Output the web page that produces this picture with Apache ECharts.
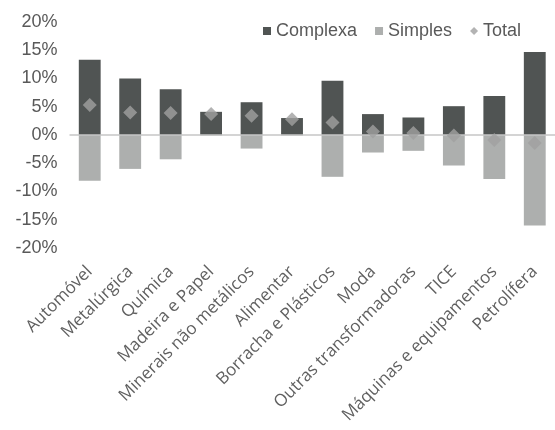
<!DOCTYPE html>
<html>
<head>
<meta charset="utf-8">
<script src="https://cdn.jsdelivr.net/npm/echarts@6/dist/echarts.min.js"></script>
<style>
    html, body { margin: 0; padding: 0; background: #fff; }
    #main { width: 555px; height: 430px; }
</style>
</head>
<body>
<div id="main"></div>
<script>
var categories = ['Automóvel', 'Metalúrgica', 'Química', 'Madeira e Papel', 'Minerais não metálicos',
    'Alimentar', 'Borracha e Plásticos', 'Moda', 'Outras transformadoras', 'TICE',
    'Máquinas e equipamentos', 'Petrolífera'];
var complexa = [13.3, 10.0, 8.1, 4.1, 5.8, 3.0, 9.6, 3.7, 3.1, 5.1, 6.9, 14.7];
var simples = [-8.1, -6.0, -4.3, -0.1, -2.4, -0.1, -7.4, -3.1, -2.8, -5.4, -7.8, -16.0];
var total = [5.3, 4.0, 3.9, 3.7, 3.4, 2.8, 2.2, 0.6, 0.35, -0.1, -0.9, -1.4];

var chartDom = document.getElementById('main');
var myChart = echarts.init(chartDom);

var textColor = '#595959';

var option = {
    animation: false,
    legend: {
        left: 258,
        top: 17,
        itemWidth: 8,
        itemHeight: 8,
        itemGap: 18,
        textStyle: { color: textColor, fontSize: 18, fontFamily: 'Liberation Sans' },
        data: [
            { name: 'Complexa', icon: 'rect' },
            { name: 'Simples', icon: 'rect' },
            { name: 'Total', icon: 'diamond' }
        ]
    },
    grid: {
        left: 69.5,
        right: -5.5,
        top: 22,
        height: 226
    },
    xAxis: {
        type: 'category',
        data: categories,
        axisLine: { show: false },
        axisTick: { show: false },
        axisLabel: {
            rotate: 45,
            interval: 0,
            margin: 21,
            color: '#606060',
            fontSize: 17,
            fontFamily: 'Open Sans'
        }
    },
    yAxis: {
        type: 'value',
        min: -20,
        max: 20,
        interval: 5,
        splitLine: { show: false },
        axisLine: { show: false },
        axisTick: { show: false },
        axisLabel: {
            margin: 12,
            color: textColor,
            fontSize: 18,
            fontFamily: 'Liberation Sans',
            formatter: function (v) { return v + '%'; }
        }
    },
    series: [
        {
            name: 'Complexa',
            type: 'bar',
            stack: 'a',
            barWidth: '54%',
            itemStyle: { color: '#505453' },
            data: complexa,
            markLine: {
                silent: true,
                symbol: 'none',
                label: { show: false },
                lineStyle: { color: '#c6c6c6', width: 1.5, type: 'solid' },
                data: [{ yAxis: 0 }]
            }
        },
        {
            name: 'Simples',
            type: 'bar',
            stack: 'a',
            barWidth: '54%',
            itemStyle: { color: '#adafae' },
            data: simples
        },
        {
            name: 'Total',
            type: 'scatter',
            symbol: 'diamond',
            symbolSize: 14,
            itemStyle: { color: '#a0a0a0' },
            data: total,
            z: 5
        }
    ]
};

myChart.setOption(option);
</script>
</body>
</html>
